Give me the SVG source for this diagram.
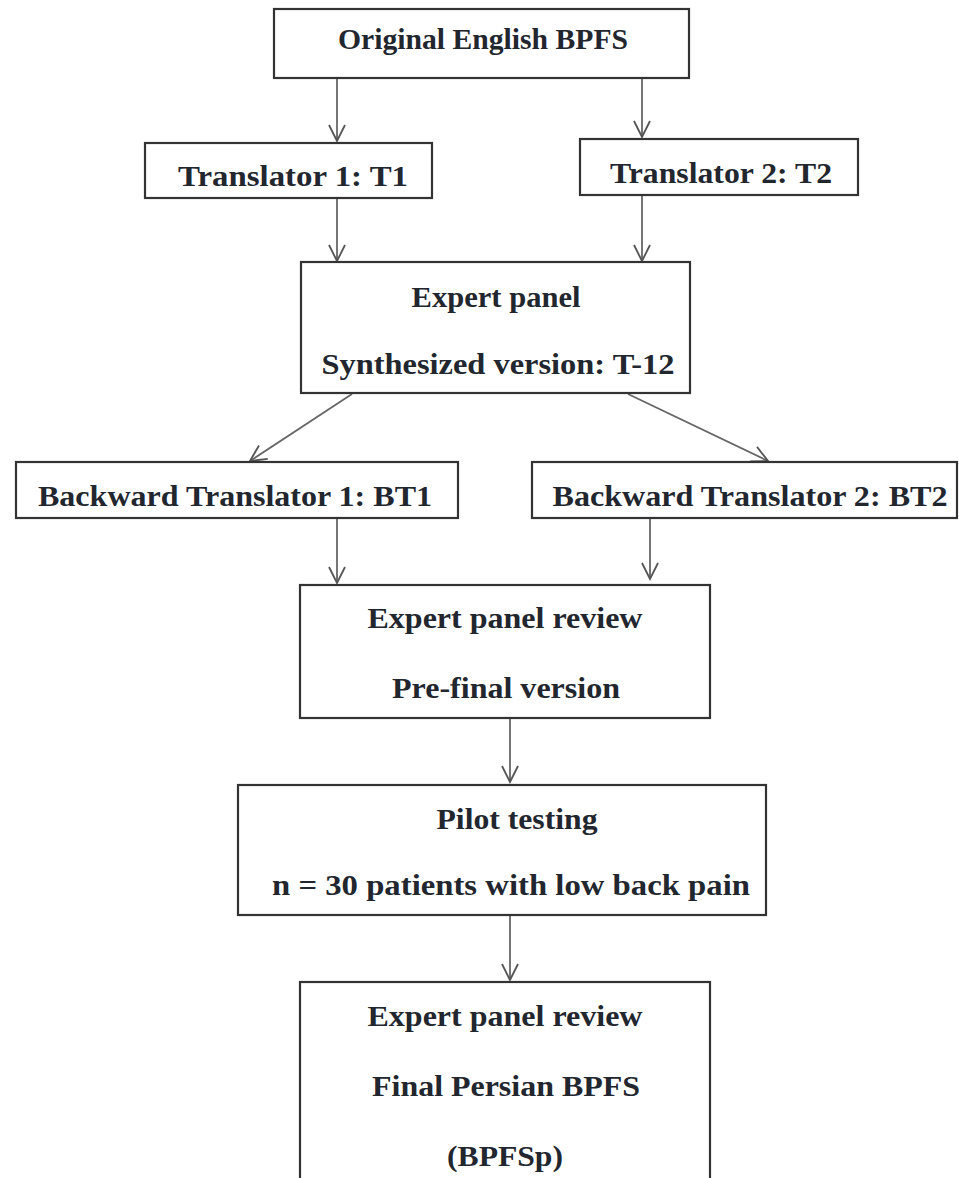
<svg xmlns="http://www.w3.org/2000/svg" width="959" height="1178" viewBox="0 0 959 1178">
<style>
.box{fill:#fff;stroke:#333;stroke-width:2.2}
.t{font-family:"Liberation Serif",serif;font-weight:700;font-size:30px;fill:#22262e;text-anchor:middle}
.c{stroke:#666;stroke-width:1.8;fill:none}
</style>
<defs>
<marker id="ah" viewBox="0 0 20 20" refX="18" refY="10" markerWidth="20" markerHeight="20" markerUnits="userSpaceOnUse" orient="auto">
<path d="M2,2 L18,10 L2,18" fill="none" stroke="#555" stroke-width="1.8"/>
</marker>
</defs>
<rect width="959" height="1178" fill="#fff"/>
<g id="connectors">
<line class="c" x1="337" y1="78" x2="337" y2="141" marker-end="url(#ah)"/>
<line class="c" x1="642" y1="78" x2="642" y2="137" marker-end="url(#ah)"/>
<line class="c" x1="337" y1="198" x2="337" y2="261" marker-end="url(#ah)"/>
<line class="c" x1="642" y1="195" x2="642" y2="261" marker-end="url(#ah)"/>
<line class="c" x1="352" y1="394" x2="250" y2="461" marker-end="url(#ah)"/>
<line class="c" x1="628" y1="394" x2="768" y2="461" marker-end="url(#ah)"/>
<line class="c" x1="337" y1="518" x2="337" y2="583" marker-end="url(#ah)"/>
<line class="c" x1="650" y1="518" x2="650" y2="579" marker-end="url(#ah)"/>
<line class="c" x1="510" y1="718" x2="510" y2="782" marker-end="url(#ah)"/>
<line class="c" x1="510" y1="915" x2="510" y2="980" marker-end="url(#ah)"/>
</g>
<g id="n1">
<rect class="box" x="274" y="9" width="415" height="69"/>
<text class="t" x="483" y="49" textLength="290" lengthAdjust="spacingAndGlyphs">Original English BPFS</text>
</g>
<g id="n2">
<rect class="box" x="145" y="143" width="287" height="55"/>
<text class="t" x="293" y="186" textLength="230" lengthAdjust="spacingAndGlyphs">Translator 1: T1</text>
</g>
<g id="n3">
<rect class="box" x="580" y="139" width="278" height="56"/>
<text class="t" x="721" y="183" textLength="222" lengthAdjust="spacingAndGlyphs">Translator 2: T2</text>
</g>
<g id="n4">
<rect class="box" x="301" y="262" width="389" height="131"/>
<text class="t" x="496" y="307" textLength="169" lengthAdjust="spacingAndGlyphs">Expert panel</text>
<text class="t" x="498" y="374" textLength="353" lengthAdjust="spacingAndGlyphs">Synthesized version: T-12</text>
</g>
<g id="n5">
<rect class="box" x="16" y="462" width="442" height="56"/>
<text class="t" x="235" y="506" textLength="394" lengthAdjust="spacingAndGlyphs">Backward Translator 1: BT1</text>
</g>
<g id="n6">
<rect class="box" x="532" y="462" width="425" height="56"/>
<text class="t" x="750" y="506" textLength="395" lengthAdjust="spacingAndGlyphs">Backward Translator 2: BT2</text>
</g>
<g id="n7">
<rect class="box" x="300" y="585" width="410" height="133"/>
<text class="t" x="505" y="628" textLength="275" lengthAdjust="spacingAndGlyphs">Expert panel review</text>
<text class="t" x="506" y="698" textLength="228" lengthAdjust="spacingAndGlyphs">Pre-final version</text>
</g>
<g id="n8">
<rect class="box" x="238" y="785" width="528" height="130"/>
<text class="t" x="517" y="829" textLength="161" lengthAdjust="spacingAndGlyphs">Pilot testing</text>
<text class="t" x="511" y="895" textLength="478" lengthAdjust="spacingAndGlyphs">n = 30 patients with low back pain</text>
</g>
<g id="n9">
<rect class="box" x="300" y="982" width="410" height="210"/>
<text class="t" x="505" y="1026" textLength="275" lengthAdjust="spacingAndGlyphs">Expert panel review</text>
<text class="t" x="506" y="1096" textLength="268" lengthAdjust="spacingAndGlyphs">Final Persian BPFS</text>
<text class="t" x="505" y="1166" textLength="116" lengthAdjust="spacingAndGlyphs">(BPFSp)</text>
</g>
</svg>
